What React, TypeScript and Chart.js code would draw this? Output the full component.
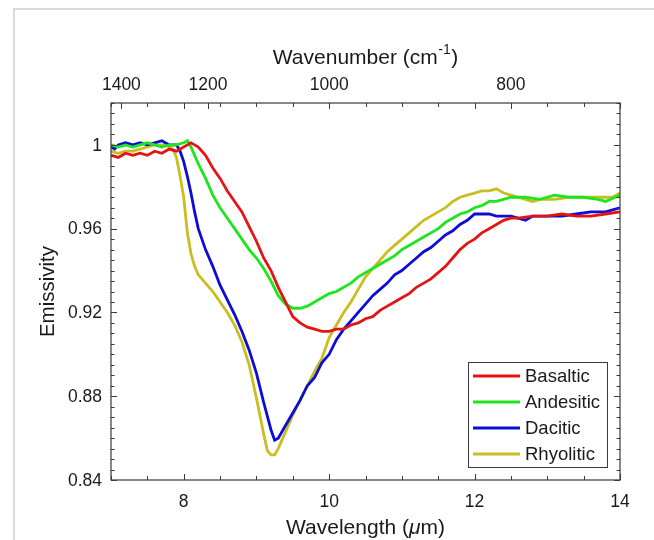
import React, { useEffect, useRef } from "react";
import { Chart, registerables } from "chart.js";

Chart.register(...registerables);

// ---- Data (wavelength in µm, emissivity) ----
const basalticX = [7.0, 7.1, 7.2, 7.3, 7.4, 7.5, 7.6, 7.7, 7.8, 7.9, 8.0, 8.1, 8.15, 8.2, 8.3, 8.4, 8.5, 8.6, 8.7, 8.8, 8.9, 9.0, 9.1, 9.2, 9.3, 9.4, 9.5, 9.6, 9.7, 9.8, 9.9, 10.0, 10.1, 10.2, 10.3, 10.4, 10.5, 10.6, 10.7, 10.8, 10.9, 11.0, 11.1, 11.2, 11.3, 11.4, 11.5, 11.6, 11.7, 11.8, 11.9, 12.0, 12.1, 12.2, 12.3, 12.4, 12.5, 12.6, 12.8, 13.0, 13.2, 13.4, 13.6, 13.8, 14.0];
const basalticY = [0.995, 0.994, 0.996, 0.995, 0.996, 0.995, 0.997, 0.996, 0.998, 0.997, 0.999, 1.001, 1.0, 0.999, 0.995, 0.989, 0.984, 0.978, 0.973, 0.968, 0.961, 0.954, 0.946, 0.94, 0.932, 0.925, 0.918, 0.915, 0.913, 0.912, 0.911, 0.911, 0.912, 0.912, 0.914, 0.915, 0.917, 0.918, 0.921, 0.923, 0.925, 0.927, 0.929, 0.932, 0.934, 0.936, 0.939, 0.942, 0.946, 0.95, 0.953, 0.955, 0.958, 0.96, 0.962, 0.964, 0.965, 0.965, 0.966, 0.966, 0.967, 0.966, 0.966, 0.967, 0.968];

const andesiticX = [7.0, 7.1, 7.2, 7.3, 7.4, 7.5, 7.6, 7.7, 7.8, 7.9, 8.0, 8.05, 8.1, 8.15, 8.2, 8.3, 8.4, 8.5, 8.6, 8.7, 8.8, 8.9, 9.0, 9.1, 9.2, 9.3, 9.4, 9.5, 9.6, 9.7, 9.8, 9.9, 10.0, 10.1, 10.2, 10.3, 10.4, 10.5, 10.6, 10.7, 10.8, 10.9, 11.0, 11.1, 11.2, 11.3, 11.4, 11.5, 11.6, 11.7, 11.8, 11.9, 12.0, 12.1, 12.2, 12.3, 12.4, 12.5, 12.7, 12.9, 13.1, 13.3, 13.5, 13.7, 13.8, 14.0];
const andesiticY = [1.0, 0.999, 1.0, 0.999, 1.0, 1.001, 1.0, 0.999, 1.0, 1.0, 1.001, 1.002, 0.999, 0.995, 0.991, 0.984, 0.976, 0.97, 0.965, 0.96, 0.955, 0.95, 0.946, 0.941, 0.935, 0.928, 0.924, 0.922, 0.922, 0.923, 0.925, 0.927, 0.929, 0.93, 0.932, 0.934, 0.937, 0.939, 0.941, 0.943, 0.945, 0.947, 0.95, 0.952, 0.954, 0.956, 0.958, 0.96, 0.963, 0.965, 0.967, 0.968, 0.97, 0.971, 0.973, 0.973, 0.974, 0.975, 0.975, 0.974, 0.976, 0.975, 0.975, 0.974, 0.973, 0.976];

const daciticX = [7.0, 7.05, 7.1, 7.2, 7.3, 7.4, 7.5, 7.6, 7.7, 7.8, 7.9, 7.95, 8.0, 8.05, 8.1, 8.15, 8.2, 8.3, 8.4, 8.5, 8.6, 8.7, 8.8, 8.9, 9.0, 9.1, 9.2, 9.25, 9.3, 9.4, 9.5, 9.6, 9.7, 9.8, 9.9, 10.0, 10.1, 10.2, 10.3, 10.4, 10.5, 10.6, 10.7, 10.8, 10.9, 11.0, 11.1, 11.2, 11.3, 11.4, 11.5, 11.6, 11.7, 11.8, 11.9, 12.0, 12.1, 12.2, 12.3, 12.4, 12.5, 12.6, 12.7, 12.8, 13.0, 13.2, 13.4, 13.6, 13.8, 14.0];
const daciticY = [0.999, 0.998, 1.0, 1.001, 1.0, 1.001, 1.0, 1.001, 1.002, 1.0, 1.0, 0.997, 0.992, 0.985, 0.977, 0.968, 0.96, 0.95, 0.942, 0.933, 0.926, 0.919, 0.911, 0.902, 0.891, 0.877, 0.864, 0.859, 0.86, 0.866, 0.872, 0.878, 0.885, 0.889, 0.896, 0.9, 0.907, 0.912, 0.916, 0.92, 0.924, 0.928, 0.931, 0.934, 0.938, 0.94, 0.943, 0.946, 0.949, 0.951, 0.954, 0.957, 0.959, 0.962, 0.964, 0.967, 0.967, 0.967, 0.966, 0.966, 0.966, 0.965, 0.964, 0.966, 0.966, 0.966, 0.967, 0.968, 0.968, 0.97];

const rhyoliticX = [7.0, 7.1, 7.2, 7.3, 7.4, 7.5, 7.6, 7.7, 7.75, 7.8, 7.85, 7.9, 7.95, 8.0, 8.05, 8.1, 8.15, 8.2, 8.3, 8.4, 8.5, 8.6, 8.7, 8.8, 8.9, 9.0, 9.1, 9.15, 9.2, 9.25, 9.3, 9.4, 9.5, 9.6, 9.7, 9.8, 9.9, 10.0, 10.1, 10.2, 10.3, 10.4, 10.5, 10.6, 10.7, 10.8, 10.9, 11.0, 11.1, 11.2, 11.3, 11.4, 11.5, 11.6, 11.7, 11.8, 11.9, 12.0, 12.1, 12.2, 12.3, 12.4, 12.5, 12.6, 12.7, 12.8, 12.9, 13.1, 13.3, 13.5, 13.7, 13.9, 14.0];
const rhyoliticY = [0.997, 0.996, 0.997, 0.997, 0.998, 0.999, 1.0, 1.0, 1.0, 0.999, 0.998, 0.994, 0.985, 0.975, 0.958, 0.948, 0.942, 0.938, 0.934, 0.93, 0.925, 0.92, 0.914, 0.906, 0.895, 0.879, 0.862, 0.854, 0.852, 0.852, 0.855, 0.863, 0.871, 0.878, 0.885, 0.892, 0.898, 0.908, 0.914, 0.92, 0.925, 0.931, 0.937, 0.941, 0.945, 0.949, 0.952, 0.955, 0.958, 0.961, 0.964, 0.966, 0.968, 0.97, 0.973, 0.975, 0.976, 0.977, 0.978, 0.978, 0.979, 0.977, 0.976, 0.975, 0.974, 0.973, 0.974, 0.974, 0.975, 0.975, 0.975, 0.975, 0.977];

const seriesNames = ["Basaltic", "Andesitic", "Dacitic", "Rhyolitic"];
const seriesColors = ["#e41414", "#1ee61e", "#0c0cd6", "#c9bd20"];

const xTicks = [8, 10, 12, 14];
const yTicks = [0.84, 0.88, 0.92, 0.96, 1];
const yTickLabels = ["0.84", "0.88", "0.92", "0.96", "1"];
const wavenumberTicks = [1400, 1200, 1000, 800];

const FONT = '"Liberation Sans", Arial, Helvetica, sans-serif';

function pts(xs: number[], ys: number[]) {
  return xs.map((x, i) => ({ x, y: ys[i] }));
}

const axesPlugin = {
  id: "matlabAxes",
  afterDraw(chart: any) {
    const { ctx, chartArea } = chart;
    const { left, right, top, bottom } = chartArea;
    const xs = chart.scales.x;
    const ys = chart.scales.y;
    const axisColor = "#3a3a3a";
    const textColor = "#1a1a1a";
    ctx.save();

    // box
    ctx.strokeStyle = axisColor;
    ctx.lineWidth = 1.2;
    ctx.strokeRect(left, top, right - left, bottom - top);

    // x ticks (minor every 0.5 µm, mirrored on top)
    ctx.beginPath();
    for (let i = 0; i <= 14; i++) {
      const v = 7 + i * 0.5;
      const px = Math.round(xs.getPixelForValue(v)) + 0.5;
      const major = xTicks.includes(v);
      const len = major ? 6 : 4;
      ctx.moveTo(px, bottom);
      ctx.lineTo(px, bottom - len);
      ctx.moveTo(px, top);
      ctx.lineTo(px, top + len);
    }
    // wavenumber ticks on top
    for (const wn of wavenumberTicks) {
      const px = Math.round(xs.getPixelForValue(10000 / wn)) + 0.5;
      ctx.moveTo(px, top);
      ctx.lineTo(px, top + 6);
    }
    // y ticks (minor every 0.005, mirrored on right)
    for (let i = 0; i <= 36; i++) {
      const v = 0.84 + i * 0.005;
      const py = Math.round(ys.getPixelForValue(v)) + 0.5;
      const major = i % 8 === 0;
      const len = major ? 6 : 3.5;
      ctx.moveTo(left, py);
      ctx.lineTo(left + len, py);
      ctx.moveTo(right, py);
      ctx.lineTo(right - len, py);
    }
    ctx.lineWidth = 1;
    ctx.stroke();

    // tick labels
    ctx.fillStyle = textColor;
    ctx.font = `17.5px ${FONT}`;
    ctx.textBaseline = "middle";
    ctx.textAlign = "center";
    for (const v of xTicks) {
      ctx.fillText(String(v), xs.getPixelForValue(v), bottom + 22);
    }
    for (const wn of wavenumberTicks) {
      ctx.fillText(String(wn), xs.getPixelForValue(10000 / wn), top - 18);
    }
    ctx.textAlign = "right";
    yTicks.forEach((v, i) => {
      ctx.fillText(yTickLabels[i], left - 9, ys.getPixelForValue(v) + 1);
    });

    // top title: Wavenumber (cm^-1)
    const cx = (left + right) / 2;
    const TF = 21;
    ctx.font = `${TF}px ${FONT}`;
    const a = "Wavenumber (cm";
    const c = ")";
    const wa = ctx.measureText(a).width;
    const wc = ctx.measureText(c).width;
    ctx.font = `14px ${FONT}`;
    const sup = "-1";
    const ws = ctx.measureText(sup).width;
    const total = wa + ws + wc + 1;
    let x0 = cx - total / 2;
    const ty = 58;
    ctx.textAlign = "left";
    ctx.font = `${TF}px ${FONT}`;
    ctx.fillText(a, x0, ty);
    ctx.font = `14px ${FONT}`;
    ctx.fillText(sup, x0 + wa + 0.5, ty - 8);
    ctx.font = `${TF}px ${FONT}`;
    ctx.fillText(c, x0 + wa + ws + 1, ty);

    // bottom title: Wavelength (µm)
    ctx.font = `${TF}px ${FONT}`;
    const b1 = "Wavelength (";
    const b3 = "m)";
    const wb1 = ctx.measureText(b1).width;
    const wb3 = ctx.measureText(b3).width;
    ctx.font = `italic ${TF}px ${FONT}`;
    const b2 = "\u03bc";
    const wb2 = ctx.measureText(b2).width;
    const tb = wb1 + wb2 + wb3;
    const bx = cx - tb / 2;
    const by = 528;
    ctx.font = `${TF}px ${FONT}`;
    ctx.fillText(b1, bx, by);
    ctx.font = `italic ${TF}px ${FONT}`;
    ctx.fillText(b2, bx + wb1, by);
    ctx.font = `${TF}px ${FONT}`;
    ctx.fillText(b3, bx + wb1 + wb2, by);

    // y title
    ctx.save();
    ctx.translate(48, (top + bottom) / 2);
    ctx.rotate(-Math.PI / 2);
    ctx.textAlign = "center";
    ctx.font = `20.5px ${FONT}`;
    ctx.fillText("Emissivity", 0, 0);
    ctx.restore();

    // legend
    const lx = 468, ly = 362, lw = 139, lh = 105;
    ctx.fillStyle = "#ffffff";
    ctx.fillRect(lx, ly, lw, lh);
    ctx.strokeStyle = axisColor;
    ctx.lineWidth = 1;
    ctx.strokeRect(lx + 0.5, ly + 0.5, lw, lh);
    ctx.font = `18.5px ${FONT}`;
    ctx.textAlign = "left";
    seriesNames.forEach((name, i) => {
      const ry = 376 + i * 26;
      ctx.strokeStyle = seriesColors[i];
      ctx.lineWidth = 3;
      ctx.beginPath();
      ctx.moveTo(473, ry);
      ctx.lineTo(520, ry);
      ctx.stroke();
      ctx.fillStyle = textColor;
      ctx.fillText(name, 525, ry + 1);
    });

    ctx.restore();
  },
};

const framePlugin = {
  id: "pageFrame",
  beforeDraw(chart: any) {
    const { ctx, width, height } = chart;
    ctx.save();
    ctx.fillStyle = "#ffffff";
    ctx.fillRect(0, 0, width, height);
    ctx.strokeStyle = "#d0d0d0";
    ctx.lineWidth = 1.5;
    ctx.beginPath();
    ctx.moveTo(14, height);
    ctx.lineTo(14, 9);
    ctx.lineTo(width, 9);
    ctx.stroke();
    ctx.restore();
  },
};

export default function App() {
  const canvasRef = useRef<HTMLCanvasElement | null>(null);

  useEffect(() => {
    if (!canvasRef.current) return;
    const xsArr = [basalticX, andesiticX, daciticX, rhyoliticX];
    const ysArr = [basalticY, andesiticY, daciticY, rhyoliticY];
    const chart = new Chart(canvasRef.current, {
      type: "line",
      data: {
        datasets: seriesNames.map((name, i) => ({
          label: name,
          data: pts(xsArr[i], ysArr[i]),
          borderColor: seriesColors[i],
          backgroundColor: seriesColors[i],
          borderWidth: 2.8,
          pointRadius: 0,
          tension: 0,
          fill: false,
        })),
      },
      options: {
        responsive: false,
        animation: false,
        devicePixelRatio: 1,
        layout: { padding: { left: 111, right: 34, top: 103, bottom: 60 } },
        scales: {
          x: { type: "linear", min: 7, max: 14, display: false },
          y: { type: "linear", min: 0.84, max: 1.02, display: false },
        },
        plugins: {
          legend: { display: false },
          tooltip: { enabled: false },
        },
      },
      plugins: [framePlugin, axesPlugin],
    });
    return () => chart.destroy();
  }, []);

  return (
    <div style={{ position: "fixed", left: 0, top: 0, width: 654, height: 540, background: "#fff" }}>
      <canvas ref={canvasRef} width={654} height={540} />
    </div>
  );
}
